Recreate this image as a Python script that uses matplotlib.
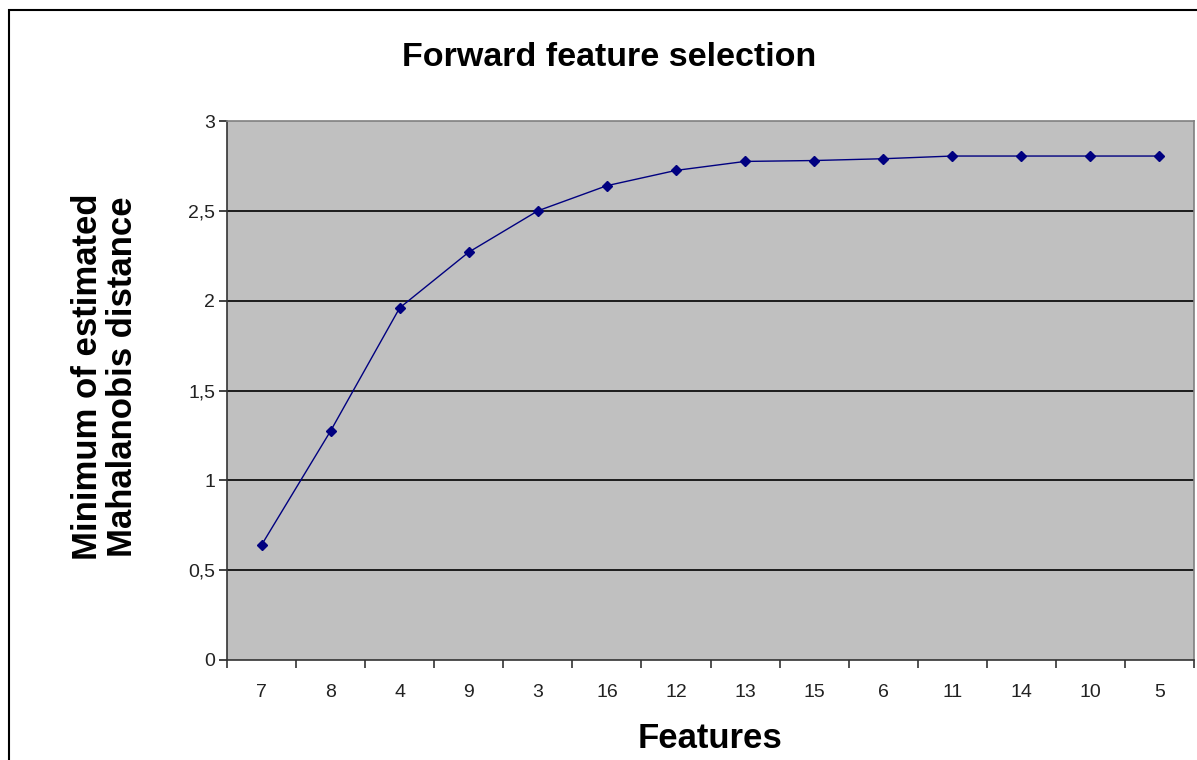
import matplotlib.pyplot as plt
from matplotlib.patches import Rectangle

features = ["7", "8", "4", "9", "3", "16", "12", "13", "15", "6", "11", "14", "10", "5"]
distance = [0.64, 1.275, 1.96, 2.27, 2.50, 2.64, 2.725, 2.775, 2.78, 2.79, 2.805, 2.805, 2.805, 2.805]
y_ticks = [0, 0.5, 1, 1.5, 2, 2.5, 3]
y_tick_labels = ["0", "0,5", "1", "1,5", "2", "2,5", "3"]

plt.rcParams["font.family"] = ["Liberation Sans", "DejaVu Sans"]

W, H = 1197, 760
fig = plt.figure(figsize=(W / 100, H / 100), dpi=100, facecolor="white")
ax = fig.add_axes([227 / W, 1 - 660 / H, (1194 - 227) / W, (660 - 121) / H])
ax.set_facecolor("#c0c0c0")

x = list(range(len(features)))
ax.plot(x, distance, color="#000080", linewidth=1.0, marker="D", markersize=5.5,
        markerfacecolor="#000080", markeredgecolor="#000080", zorder=3)

ax.set_xlim(-0.5, len(features) - 0.5)
ax.set_ylim(0, 3)
ax.set_yticks(y_ticks)
ax.set_yticklabels(y_tick_labels)
ax.set_xticks(x)
ax.set_xticklabels(features)
ax.set_xticks([i - 0.5 for i in range(len(features) + 1)], minor=True)
ax.tick_params(axis="x", which="major", length=0, pad=17, labelsize=14, colors="#222222")
ax.tick_params(axis="x", which="minor", length=6, width=1.2, direction="out", color="#333333")
ax.tick_params(axis="y", length=5.5, width=1.2, direction="out", pad=3, labelsize=14,
               colors="#222222")
for yv in y_ticks[1:-1]:
    ax.axhline(yv, color="black", linewidth=1.2, zorder=1)

for side in ("top", "right"):
    ax.spines[side].set_color("#808080")
    ax.spines[side].set_linewidth(1.2)
for side in ("left", "bottom"):
    ax.spines[side].set_color("#333333")
    ax.spines[side].set_linewidth(1.2)

fig.text(609 / W, 1 - 58 / H, "Forward feature selection", ha="center", va="center",
         fontsize=24.5, fontweight="bold")
fig.text(710 / W, 1 - 739 / H, "Features", ha="center", va="center",
         fontsize=25, fontweight="bold")
fig.text(105 / W, 1 - 377 / H, "Minimum of estimated\nMahalanobis distance", ha="center",
         va="center", rotation=90, fontsize=25, fontweight="bold", linespacing=1.1)

fig.add_artist(Rectangle((9 / W, -0.05), 1.1, 1 - 10 / H + 0.05, transform=fig.transFigure,
                         fill=False, edgecolor="black", linewidth=1.5))

fig.savefig("out.png", dpi=100, facecolor="white")
